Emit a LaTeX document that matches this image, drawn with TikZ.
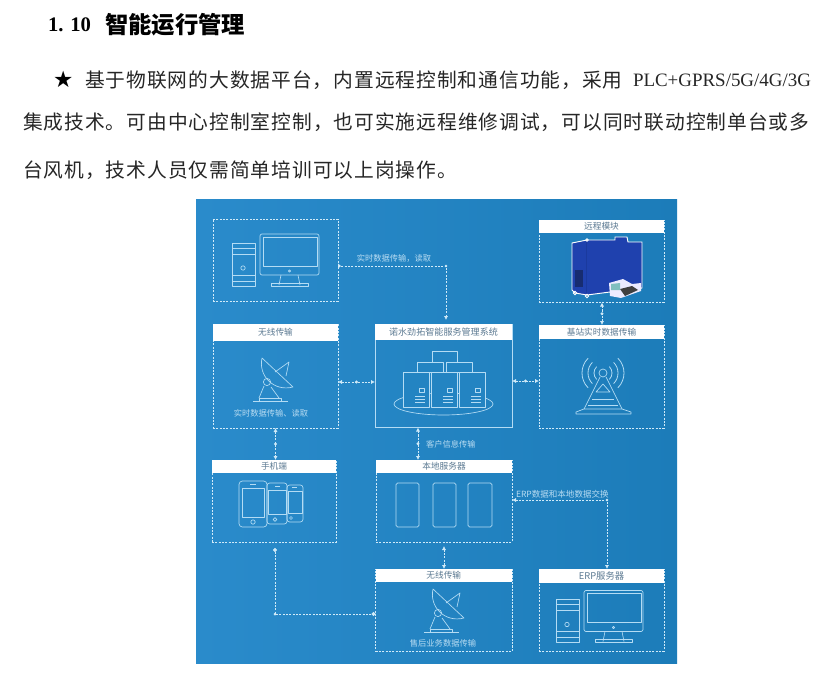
\documentclass[tikz,border=0pt]{standalone}
\usepackage{fontspec}
\usetikzlibrary{fit,arrows.meta,calc}
\setmainfont{Liberation Serif}
\newfontfamily\cjk{Noto Sans CJK SC}
\newfontfamily\cjkbody[LetterSpace=5]{Noto Sans CJK SC}
\newfontfamily\starfont{DejaVu Sans}
\definecolor{panelL}{HTML}{2A8BCB}
\definecolor{panelR}{HTML}{1C7CB9}
\definecolor{panelM}{HTML}{2384C2}
\definecolor{linec}{HTML}{D0EAF8}
\definecolor{iconc}{HTML}{B4DCF4}
\definecolor{labc}{HTML}{B8DCF2}
\definecolor{hdrc}{HTML}{5C7A92}
\definecolor{bodyc}{HTML}{262626}
\definecolor{modA}{HTML}{1F41AE}
\definecolor{modB}{HTML}{1B3A9E}
\definecolor{modC}{HTML}{172C70}
\tikzset{
  every node/.style={inner sep=0pt,outer sep=0pt},
  bodytext/.style={anchor=west,text=bodyc,font=\cjkbody\fontsize{14.8}{15}\selectfont},
  dbox/.style={draw=linec,dash pattern=on 1.6pt off .9pt,line width=.55pt},
  sbox/.style={draw=iconc,line width=.6pt},
  hdr/.style={fill=white},
  hdrt/.style={text=hdrc,font=\cjk\fontsize{6.5}{6.5}\selectfont},
  lab/.style={text=labc,font=\cjk\fontsize{6.2}{6.2}\selectfont},
  conn/.style={draw=linec,dash pattern=on 1.6pt off .9pt,line width=.6pt},
  ends/.style={{Latex[length=3pt,width=3.2pt,fill=linec]}-{Latex[length=3pt,width=3.2pt,fill=linec]}},
  endtip/.style={-{Latex[length=3pt,width=3.2pt,fill=linec]}},
  middot/.style={circle,fill=linec,minimum size=2.6pt},
  icon/.style={draw=iconc,line width=.5pt,line join=round},
  pics/pcicon/.style={code={
    \draw[icon] (232,243) rectangle (255,286);
    \draw[icon] (232,248) -- (255,248) (232,254) -- (255,254) (232,275) -- (255,275) (232,281) -- (255,281);
    \draw[icon] (243,268) circle (2.2);
    \draw[icon,rounded corners=1.5pt] (260,234) rectangle (319,275);
    \draw[icon] (263,237) rectangle (317,266);
    \draw[icon] (289.5,271) circle (1.2);
    \draw[icon] (281,275) -- (279,285) (298,275) -- (300,285);
    \draw[icon] (271,283) rectangle (308,286);
  }},
  pics/dishicon/.style={code={
    \draw[icon] (262,358) .. controls (258,376) and (274,392) .. (293,387) -- cycle;
    \draw[icon] (275,372) -- (289,362) -- (286,376);
    \draw[icon] (267,382) circle (3.6);
    \draw[icon] (264,386) -- (259,398) (271,387) -- (279,398);
    \draw[icon] (259,398) rectangle (281,401);
    \draw[icon] (253,401) -- (288,401);
  }}
}
\begin{document}
\begin{tikzpicture}[x=.75pt,y=-.75pt]
\useasboundingbox (0,0) rectangle (840,692);
\fill[white] (0,0) rectangle (840,692);
% text above
\node[anchor=west,text=black] (tnum) at (48,25) {\fontsize{15.5}{15.5}\selectfont\bfseries 1.\,\,10};
\node[anchor=west,text=black] (ttl) at (105,25) {\cjk\fontsize{17.5}{17.5}\selectfont\bfseries 智能运行管理};
\node[anchor=west,text=black] (star) at (53,79) {\starfont\fontsize{17}{17}\selectfont ★};
\node[bodytext] (l1) at (85,80) {基于物联网的大数据平台，内置远程控制和通信功能，采用};
\node[anchor=west,text=bodyc] (l1b) at (633,80) {\fontsize{14.2}{14.2}\selectfont PLC+GPRS/5G/4G/3G};
\node[bodytext] (l2) at (23,122) {集成技术。可由中心控制室控制，也可实施远程维修调试，可以同时联动控制单台或多};
\node[bodytext] (l3) at (23,170) {台风机，技术人员仅需简单培训可以上岗操作。};
% panel
\shade[left color=panelL,right color=panelR] (196,199) rectangle (677,663);
% boxes
\node[dbox,fit={(213,219)(338,301)}] (pc) {};
\node[dbox,fit={(213,324)(338,428)}] (wl) {};
\node[hdr,fit={(213,324)(338,341)}] (hwl) {};
\node[hdrt] (thwl) at (hwl) {无线传输};
\node[sbox,fit={(375,324)(512,427)}] (cen) {};
\node[hdr,fit={(375,324)(512,340)}] (hcen) {};
\node[hdrt,font=\cjk\fontsize{6.8}{6.8}\selectfont] (thcen) at (hcen) {诺水劲拓智能服务管理系统};
\node[dbox,fit={(539,220)(664,302)}] (rem) {};
\node[hdr,fit={(539,220)(664,233)}] (hrem) {};
\node[hdrt] (threm) at (hrem) {远程模块};
\node[dbox,fit={(539,325)(664,428)}] (bs) {};
\node[hdr,fit={(539,325)(664,339)}] (hbs) {};
\node[hdrt] (thbs) at (hbs) {基站实时数据传输};
\node[dbox,fit={(212,460)(336,542)}] (ph) {};
\node[hdr,fit={(212,460)(336,473)}] (hph) {};
\node[hdrt] (thph) at (hph) {手机端};
\node[dbox,fit={(376,460)(512,542)}] (loc) {};
\node[hdr,fit={(376,460)(512,473)}] (hloc) {};
\node[hdrt] (thloc) at (hloc) {本地服务器};
\node[dbox,fit={(375.5,569)(512,651)}] (wl2) {};
\node[hdr,fit={(375.5,569)(512,582)}] (hwl2) {};
\node[hdrt] (thwl2) at (hwl2) {无线传输};
\node[dbox,fit={(539,569)(664,651)}] (erp) {};
\node[hdr,fit={(539,569)(664,582.5)}] (herp) {};
\node[hdrt,font=\cjk\fontsize{7}{7}\selectfont] (therp) at (herp) {ERP服务器};
% icons
\pic {pcicon};
\begin{scope}[shift={(324,356.5)}]\pic {pcicon};\end{scope}
\pic {dishicon};
\begin{scope}[shift={(171,231)}]\pic {dishicon};\end{scope}
% servers
\draw[icon] (443.5,404) ellipse (49.5 and 11);
\foreach \a/\b/\c/\d in {432/351/457/372,417/362/443/372,446/362/472/372,403/372/429/407,431/372/457/407,459/372/485/407}{
  \filldraw[icon,fill=panelM] (\a,\b) rectangle (\c,\d);
}
\foreach \a in {403,431,459}{
  \draw[icon] (\a+16,388) rectangle (\a+21,392);
  \draw[icon] (\a+12,396) -- (\a+22,396) (\a+12,399) -- (\a+22,399) (\a+12,402) -- (\a+22,402);
}
% local servers
\foreach \a/\b in {396/419,433/456,468/492}{
  \draw[icon,rounded corners=1.2pt] (\a,483) rectangle (\b,527);
}
% phones
\draw[icon,rounded corners=2.5pt] (239,481) rectangle (267,527);
\draw[icon] (242,488) rectangle (264,517);
\draw[icon] (253,522) circle (2.2);
\draw[icon] (250,484.5) -- (256,484.5);
\draw[icon,rounded corners=2pt] (267,483) rectangle (287,524);
\draw[icon] (268.5,490) rectangle (286,514);
\draw[icon] (275,486) -- (280,486);
\draw[icon] (275,519.5) circle (1.8);
\draw[icon,rounded corners=2pt] (287,485) rectangle (303,522);
\draw[icon] (288,491) rectangle (302,513);
\draw[icon] (292,487.5) -- (297,487.5);
\draw[icon] (291,518) circle (1.5);
% tower
\foreach \r in {9,15,21}{
  \draw[icon,line width=.6pt] (603,373) ++(-45:\r) arc (-45:45:\r);
  \draw[icon,line width=.6pt] (603,373) ++(135:\r) arc (135:225:\r);
}
\draw[icon] (603,373) circle (4);
\draw[icon] (600,377) -- (584,409) (606,377) -- (622,409);
\draw[icon] (603,384) -- (596,392) -- (610,392) -- cycle;
\draw[icon] (592,399) -- (614,399) (588,405) -- (618,405);
\draw[icon] (584,409) -- (576,412) -- (576,414) -- (631,414) -- (631,412) -- (622,409) -- cycle;
% remote module
\draw[white,line width=.7pt,fill=modA]
  (572,243) -- (587,240) -- (615,240) -- (615,237) -- (627,237) -- (628,242) -- (642,242)
  -- (642,288) -- (610,292) -- (587,295) -- (575,293) -- (572,290) -- cycle;
\fill[modC] (575,270) rectangle (583,287);
\fill[modB] (586,241) rectangle (587,294);
\draw[white,line width=.7pt] (575,293) circle (1.8) (587,296) circle (1.8) (587,240) circle (1.2);
\fill[white!92!blue] (609,283) -- (623,279) -- (632,284) -- (641,283) -- (641,291) -- (621,298) -- (610,296) -- cycle;
\fill[black!75] (620,289) -- (632,286) -- (638,290) -- (625,296) -- cycle;
\fill[teal!50] (611,284) -- (620,283) -- (620,290) -- (611,290) -- cycle;
% connectors
\coordinate (j1) at (446,266);
\coordinate (j2) at (275,614);
\coordinate (j3) at (607,500);
\coordinate (s1) at (275,548);
\coordinate (e2) at (444,546);
\coordinate (a1) at (340,382);
\coordinate (a2) at (520,381);
\coordinate (a3) at (602,302.5);
\coordinate (a4) at (418,427.5);
\coordinate (t1) at (446,320);
\draw[conn,endtip] (pc.east |- j1) -- (j1) -- (t1);
\fill[linec] (pc.east |- j1) ++(0,-2.5) -- ++(3,2.5) -- ++(-3,2.5) -- cycle;
\fill[linec] (j1) circle (1.3);
\draw[conn,ends] (wl.east |- a1) -- node[middot]{} (cen.west |- a1);
\draw[conn,ends] (cen.east |- a2) -- node[middot]{} (bs.west |- a2);
\draw[conn,ends] (a3) -- node[middot]{} (hbs.north -| a3);
\draw[conn,ends] (wl.south) -- node[middot]{} (wl.south |- hph.north);
\draw[conn,ends] (a4) -- node[middot]{} (hloc.north -| a4);
\node[lab,anchor=west] (lb3) at (426,444) {客户信息传输};
\draw[conn,ends] (e2) -- (e2 |- hwl2.north);
\draw[conn,{Circle[length=3pt,fill=linec]}-{Circle[length=3pt,fill=linec]}] (s1) -- (j2) -- (wl2.west |- j2);
\fill[linec] (j2) circle (1.5);
\draw[conn,{Latex[length=3pt,width=3.2pt,fill=linec]}-{Latex[length=3pt,width=3.2pt,fill=linec]}] (loc.east |- j3) -- (j3) -- (j3 |- herp.north);
\fill[linec] (j3) circle (1.3);
\node[lab] (lb1) at (394,258) {实时数据传输，读取};
\node[lab] (lb2) at (271,413) {实时数据传输、读取};
\node[lab] (lb4) at (443,643.5) {售后业务数据传输};
\node[lab,anchor=west,font=\cjk\fontsize{6.4}{6.4}\selectfont] (lb5) at (516,494) {ERP数据和本地数据交换};
\end{tikzpicture}
\end{document}
